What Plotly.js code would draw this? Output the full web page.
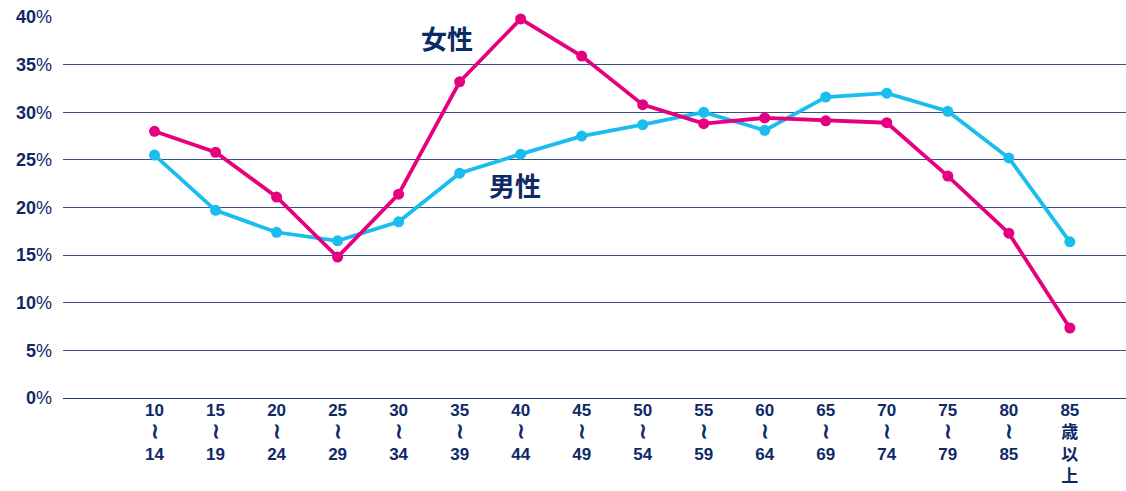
<!DOCTYPE html>
<html><head><meta charset="utf-8">
<script src="https://cdn.plot.ly/plotly-3.0.1.min.js"></script>
<style>html,body{margin:0;padding:0;background:#fff}#c{width:1126px;height:491px}</style>
</head><body><div id="c"></div>
<script>
const categories = ["10<br>≀<br>14","15<br>≀<br>19","20<br>≀<br>24","25<br>≀<br>29","30<br>≀<br>34","35<br>≀<br>39","40<br>≀<br>44","45<br>≀<br>49","50<br>≀<br>54","55<br>≀<br>59","60<br>≀<br>64","65<br>≀<br>69","70<br>≀<br>74","75<br>≀<br>79","80<br>≀<br>85","85<br>歳<br>以<br>上"];
const women = [28.0, 25.8, 21.1, 14.8, 21.4, 33.2, 39.8, 35.9, 30.8, 28.8, 29.4, 29.1, 28.9, 23.3, 17.3, 7.35];
const men = [25.5, 19.7, 17.4, 16.5, 18.5, 23.6, 25.6, 27.5, 28.7, 30.0, 28.1, 31.6, 32.0, 30.1, 25.2, 16.4];
const yTickVals = [0,5,10,15,20,25,30,35,40];
const yTickText = yTickVals.map(v => "<b>" + v + "</b>%");
const navy = "#0e2a66";
const xi = categories.map((_, i) => i);
const xTickText = categories.map(c => "<b>" + c.replace(/≀/g, "<span style=\"font-size:21px\">≀</span>") + "</b>");

const traces = [
  {x: xi, y: men, type: "scatter", mode: "lines+markers", name: "男性",
   line: {color: "#19bdee", width: 3.8}, marker: {color: "#19bdee", size: 11}, cliponaxis: false},
  {x: xi, y: women, type: "scatter", mode: "lines+markers", name: "女性",
   line: {color: "#e5007f", width: 3.8}, marker: {color: "#e5007f", size: 11}, cliponaxis: false}
];
const layout = {
  width: 1126, height: 491,
  margin: {l: 63, r: 0, t: 17, b: 93},
  paper_bgcolor: "#fff", plot_bgcolor: "#fff",
  showlegend: false,
  font: {family: "Liberation Sans, Arial, Noto Sans CJK JP, sans-serif", color: navy},
  xaxis: {range: [-1.5, 15.92], tickmode: "array", tickvals: xi, ticktext: xTickText,
          showgrid: false, zeroline: false, showline: false, ticks: "", tickfont: {size: 17, color: navy}},
  yaxis: {range: [0, 40], tickmode: "array", tickvals: yTickVals, ticktext: yTickText,
          showgrid: true, gridcolor: "#3a4f86", gridwidth: 1,
          zeroline: true, zerolinecolor: "#1e3570", zerolinewidth: 1, showline: false,
          ticks: "", ticklabelstandoff: 10, tickfont: {size: 18, color: navy}},
  annotations: [
    {x: 4.8, y: 37.8, xref: "x", yref: "y", text: "<b>女性</b>", showarrow: false,
     font: {size: 26, color: navy, family: "Noto Sans CJK JP, sans-serif"}},
    {x: 5.9, y: 22.4, xref: "x", yref: "y", text: "<b>男性</b>", showarrow: false,
     font: {size: 26, color: navy, family: "Noto Sans CJK JP, sans-serif"}}
  ]
};
Plotly.newPlot("c", traces, layout, {displayModeBar: false, staticPlot: true});
</script></body></html>
